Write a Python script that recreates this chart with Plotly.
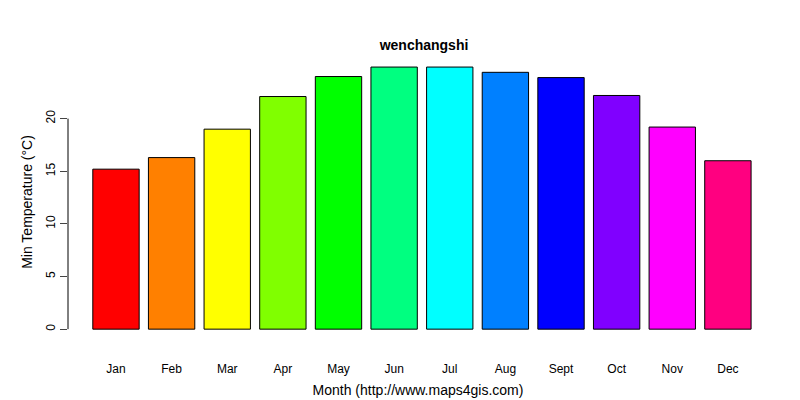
import plotly.graph_objects as go

months = ["Jan","Feb","Mar","Apr","May","Jun","Jul","Aug","Sept","Oct","Nov","Dec"]
temps = [15.2,16.3,19.0,22.1,24.0,24.9,24.9,24.4,23.9,22.2,19.2,16.0]
colors = ["#FF0000","#FF8000","#FFFF00","#80FF00","#00FF00","#00FF80",
          "#00FFFF","#0080FF","#0000FF","#8000FF","#FF00FF","#FF0080"]
yticks = [0,5,10,15,20]

xpos = [0.7+1.2*i for i in range(len(months))]

fig = go.Figure(go.Bar(x=xpos, y=temps, width=1, marker_color=colors,
                       marker_line_color="black", marker_line_width=1))
fig.update_layout(
    width=800, height=400, plot_bgcolor="white", paper_bgcolor="white",
    margin=dict(l=60, r=40, t=50, b=60), showlegend=False,
    font=dict(family="Liberation Sans, Arial", size=12, color="black"),
    title=dict(text="<b>wenchangshi</b>", x=0.52, y=0.92, xanchor="center", font=dict(size=14)),
    xaxis=dict(range=[-0.335,14.765], tickvals=xpos, ticktext=months, showgrid=False,
               zeroline=False, showline=False, ticks="", ticklabelstandoff=14,
               title=dict(text="Month (http://www.maps4gis.com)", standoff=10)),
    yaxis=dict(range=[-1.6,25.76], tickvals=yticks, showgrid=False, zeroline=False,
               showline=False, ticks="outside", ticklen=7, tickangle=-90,
               title=dict(text="Min Temperature (°C)", standoff=8)),
)
fig.add_shape(type="line", xref="paper", yref="y", x0=0, x1=0, y0=0, y1=20,
              line=dict(color="black", width=1))
fig.write_html("out.html")
